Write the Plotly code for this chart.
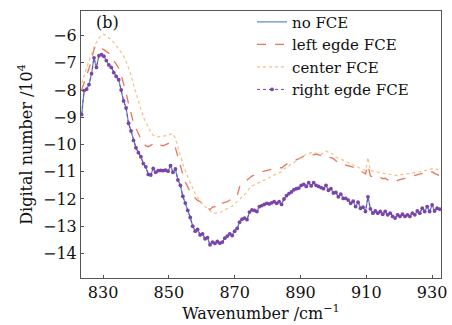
import numpy as np
import plotly.graph_objects as go

# wavenumber sampling grid (cm^-1)
wavenumber = [round(823.5 + 0.75 * i, 2) for i in range(146)]

no_fce = [
    -8.90, -8.02, -7.97, -7.80, -7.40, -6.82, -7.17, -6.74, -6.70, -6.76,
    -6.92, -7.08, -7.17, -7.36, -7.50, -7.62, -8.00, -8.40, -8.66, -9.22,
    -9.50, -9.85, -10.12, -10.30, -10.45, -10.70, -10.82, -11.10, -11.12, -10.88,
    -11.02, -10.96, -10.95, -10.96, -10.94, -10.98, -10.78, -11.02, -10.90, -11.30,
    -11.50, -11.90, -12.15, -12.42, -12.68, -13.00, -13.18, -13.12, -13.32, -13.28,
    -13.46, -13.42, -13.68, -13.58, -13.63, -13.56, -13.62, -13.58, -13.44, -13.36,
    -13.28, -13.34, -13.18, -13.08, -12.85, -12.74, -12.70, -12.76, -12.48, -12.40,
    -12.42, -12.46, -12.28, -12.24, -12.20, -12.16, -12.18, -12.14, -12.10, -12.16,
    -12.10, -12.20, -12.00, -11.88, -11.80, -11.74, -11.66, -11.62, -11.60, -11.50,
    -11.46, -11.54, -11.40, -11.52, -11.40, -11.50, -11.54, -11.58, -11.62, -11.50,
    -11.68, -11.62, -11.78, -11.76, -11.92, -11.82, -11.98, -11.98, -12.04, -12.16,
    -12.08, -12.28, -12.12, -12.34, -12.30, -12.46, -11.92, -12.36, -12.52, -12.44,
    -12.52, -12.46, -12.56, -12.46, -12.58, -12.52, -12.64, -12.70, -12.58, -12.64,
    -12.56, -12.64, -12.58, -12.64, -12.52, -12.58, -12.44, -12.52, -12.34, -12.46,
    -12.28, -12.46, -12.22, -12.44, -12.34, -12.37,
]

left_edge = [
    -8.00, -7.75, -7.50, -7.20, -6.90, -6.50, -6.35, -6.42, -6.48, -6.52,
    -6.58, -6.65, -6.85, -6.92, -7.05, -7.20, -7.45, -7.75, -8.10, -8.50,
    -8.85, -9.20, -9.40, -9.62, -9.80, -9.95, -10.05, -10.08, -10.02, -9.98,
    -10.06, -10.04, -10.02, -10.05, -10.00, -9.95, -9.92, -10.05, -10.12, -10.45,
    -10.80, -11.10, -11.38, -11.58, -11.74, -11.88, -11.98, -12.05, -12.10, -12.18,
    -12.26, -12.30, -12.40, -12.30, -12.28, -12.34, -12.26, -12.16, -12.12, -12.10,
    -12.04, -12.00, -11.94, -11.88, -11.55, -11.45, -11.38, -11.32, -11.22, -11.16,
    -11.12, -11.08, -11.02, -11.00, -10.98, -10.96, -10.94, -10.92, -10.90, -10.88,
    -10.84, -10.86, -10.78, -10.72, -10.68, -10.64, -10.60, -10.54, -10.50, -10.48,
    -10.44, -10.42, -10.40, -10.36, -10.38, -10.35, -10.38, -10.40, -10.42, -10.40,
    -10.46, -10.48, -10.52, -10.60, -10.66, -10.72, -10.70, -10.76, -10.78, -10.80,
    -10.84, -10.86, -10.92, -10.96, -11.02, -11.08, -10.75, -11.15, -11.20, -11.18,
    -11.22, -11.20, -11.26, -11.24, -11.30, -11.32, -11.36, -11.38, -11.32, -11.28,
    -11.26, -11.24, -11.20, -11.18, -11.16, -11.14, -11.12, -11.10, -11.06, -11.08,
    -11.02, -11.04, -11.00, -11.06, -11.10, -11.14,
]

center = [
    -7.75, -7.50, -7.20, -6.90, -6.70, -6.40, -6.22, -6.10, -5.98, -5.96,
    -6.00, -6.10, -6.18, -6.25, -6.40, -6.50, -6.62, -6.75, -6.95, -7.20,
    -7.45, -7.80, -8.10, -8.40, -8.72, -9.00, -9.18, -9.35, -9.55, -9.66,
    -9.70, -9.72, -9.70, -9.69, -9.70, -9.67, -9.62, -9.60, -9.78, -10.05,
    -10.40, -10.72, -10.98, -11.20, -11.40, -11.62, -11.80, -11.95, -12.08, -12.18,
    -12.28, -12.36, -12.44, -12.50, -12.52, -12.52, -12.50, -12.46, -12.40, -12.36,
    -12.30, -12.26, -12.18, -12.10, -12.02, -11.92, -11.84, -11.74, -11.60, -11.52,
    -11.48, -11.42, -11.38, -11.34, -11.30, -11.26, -11.22, -11.16, -11.12, -11.08,
    -11.04, -11.00, -10.90, -10.84, -10.76, -10.70, -10.64, -10.58, -10.52, -10.46,
    -10.40, -10.36, -10.34, -10.30, -10.30, -10.32, -10.34, -10.36, -10.30, -10.24,
    -10.28, -10.30, -10.38, -10.46, -10.50, -10.54, -10.58, -10.62, -10.66, -10.70,
    -10.74, -10.78, -10.82, -10.88, -10.92, -10.96, -10.48, -10.96, -10.98, -11.00,
    -11.02, -11.03, -11.05, -11.06, -11.08, -11.10, -11.11, -11.12, -11.14, -11.12,
    -11.10, -11.09, -11.08, -11.06, -11.05, -11.04, -11.02, -11.00, -10.98, -10.96,
    -10.94, -10.92, -10.88, -10.87, -10.92, -10.96,
]

right_edge = list(no_fce)

x_ticks = [830, 850, 870, 890, 910, 930]
y_ticks = [-6, -7, -8, -9, -10, -11, -12, -13, -14]

FONT = "DejaVu Serif"

fig = go.Figure()
fig.add_trace(go.Scatter(x=wavenumber, y=no_fce, mode="lines", name="no FCE",
                         line=dict(color="#5b8fd6", width=1.3)))
fig.add_trace(go.Scatter(x=wavenumber, y=left_edge, mode="lines", name="left egde FCE",
                         line=dict(color="#e8765a", width=1.3, dash="dash")))
fig.add_trace(go.Scatter(x=wavenumber, y=center, mode="lines", name="center FCE",
                         line=dict(color="#f5bf86", width=1.2, dash="dot")))
fig.add_trace(go.Scatter(x=wavenumber, y=right_edge, mode="lines+markers", name="right egde FCE",
                         line=dict(color="#7b44a8", width=1, dash="dot"),
                         marker=dict(color="#7b44a8", size=3.8)))

fig.add_annotation(x=0.035, y=1.0, xref="paper", yref="paper", text="(b)",
                   showarrow=False, xanchor="left", yanchor="top",
                   font=dict(family=FONT, size=16, color="#111"))

axis_common = dict(showline=True, linecolor="#555", linewidth=1, mirror=True,
                   ticks="inside", ticklen=3, tickcolor="#555", showgrid=False,
                   zeroline=False, tickfont=dict(family=FONT, size=16, color="#111"))

fig.update_layout(
    width=452, height=325,
    margin=dict(l=81, r=11, t=6, b=47),
    paper_bgcolor="white", plot_bgcolor="white",
    font=dict(family=FONT, size=16, color="#111"),
    xaxis=dict(range=[823.3, 932.7], tickvals=x_ticks, ticktext=[str(v) for v in x_ticks],
               title=dict(text="Wavenumber /cm<sup>−1</sup>", standoff=2,
                          font=dict(family=FONT, size=16, color="#111")),
               **axis_common),
    yaxis=dict(range=[-14.9, -5.1], tickvals=y_ticks,
               ticktext=[("−" + str(-v)) for v in y_ticks],
               title=dict(text="Digital number /10<sup>4</sup>", standoff=6,
                          font=dict(family=FONT, size=16, color="#111")),
               **axis_common),
    legend=dict(x=0.475, y=1.02, xanchor="left", yanchor="top", bgcolor="rgba(0,0,0,0)",
                font=dict(family=FONT, size=15, color="#111"), tracegroupgap=0,
                itemwidth=30),
    showlegend=True,
)

fig.write_html("out.html")
